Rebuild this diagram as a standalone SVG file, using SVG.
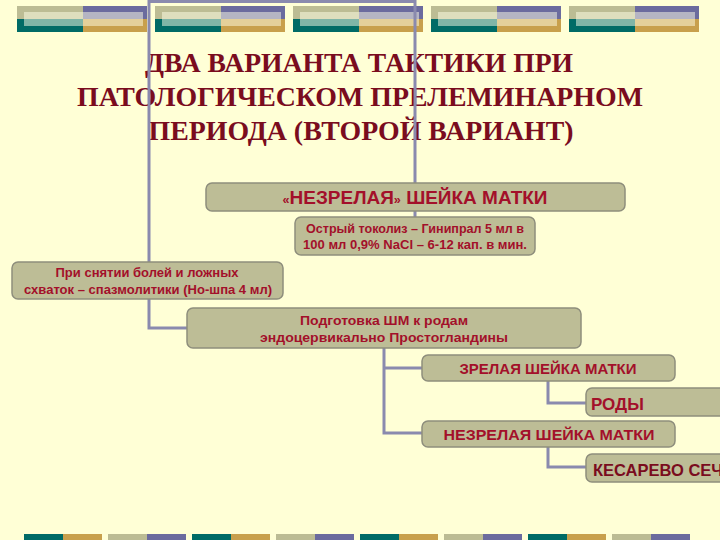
<svg xmlns="http://www.w3.org/2000/svg" width="720" height="540" viewBox="0 0 720 540">
<defs>
<style>
.kh{fill:#BCBC94}.pu{fill:#6B6B9E}.te{fill:#006B66}.go{fill:#C8A04C}
.hl{fill:#FFFFE8;opacity:0.5}
.title{font-family:"Liberation Serif","Times New Roman",serif;font-weight:bold;font-size:28px;fill:#7A0C1E;text-anchor:middle}
.box{fill:#BDBD96;stroke:#8E8E7C;stroke-width:1.5}
.t{font-family:"Liberation Sans",Arial,sans-serif;font-weight:bold;fill:#A3102A;text-anchor:middle}
.ts{font-family:"Liberation Sans",Arial,sans-serif;font-weight:bold;fill:#A3102A;text-anchor:start}
.conn{fill:none;stroke:#8A8AAE;stroke-width:3}
</style>
<g id="topblock">
<rect class="kh" x="0" y="6" width="66" height="13"/>
<rect class="pu" x="66" y="6" width="64" height="13"/>
<rect class="te" x="0" y="19" width="66" height="13"/>
<rect class="go" x="66" y="19" width="64" height="13"/>
<rect class="hl" x="7" y="12" width="119" height="14"/>
</g>
<g id="botA"><rect class="te" x="0" y="534" width="39" height="6"/><rect class="go" x="39" y="534" width="39" height="6"/></g>
<g id="botB"><rect class="kh" x="0" y="534" width="39" height="6"/><rect class="pu" x="39" y="534" width="39" height="6"/></g>
</defs>
<rect width="720" height="540" fill="#FFFFD6"/>
<g id="decor">
<use href="#topblock" x="17"/><use href="#topblock" x="155"/><use href="#topblock" x="293"/><use href="#topblock" x="431"/><use href="#topblock" x="569"/>
<use href="#botA" x="24"/><use href="#botB" x="108"/><use href="#botA" x="192"/><use href="#botB" x="276"/><use href="#botA" x="360"/><use href="#botB" x="444"/><use href="#botA" x="528"/><use href="#botB" x="612"/>
</g>
<g id="title">
<text class="title" x="359" y="72" textLength="428" lengthAdjust="spacingAndGlyphs">ДВА ВАРИАНТА ТАКТИКИ ПРИ</text>
<text class="title" x="360" y="106" textLength="566" lengthAdjust="spacingAndGlyphs">ПАТОЛОГИЧЕСКОМ ПРЕЛЕМИНАРНОМ</text>
<text class="title" x="361" y="140" textLength="425" lengthAdjust="spacingAndGlyphs">ПЕРИОДА (ВТОРОЙ ВАРИАНТ)</text>
</g>
<g id="connectors">
<path class="conn" d="M187,328 H149 V1.5 H415 V217"/>
<path class="conn" d="M384,348 V433 H422 M384,368 H422"/>
<path class="conn" d="M548,381 V403 H586"/>
<path class="conn" d="M548,447 V467 H586"/>
</g>
<g id="n1">
<rect class="box" x="206" y="183" width="419" height="28" rx="6"/>
<text class="t" x="415" y="204" font-size="18" textLength="265" lengthAdjust="spacingAndGlyphs"><tspan font-size="12">«</tspan>НЕЗРЕЛАЯ<tspan font-size="12">»</tspan> ШЕЙКА МАТКИ</text>
</g>
<g id="n2">
<rect class="box" x="295" y="217" width="240" height="38" rx="6"/>
<text class="t" x="415" y="233" font-size="12.5" textLength="218" lengthAdjust="spacingAndGlyphs">Острый токолиз – Гинипрал 5 мл в</text>
<text class="t" x="415" y="249" font-size="12.5" textLength="224" lengthAdjust="spacingAndGlyphs">100 мл 0,9% NaCl – 6-12 кап. в мин.</text>
</g>
<g id="n3">
<rect class="box" x="12" y="262" width="271" height="37" rx="6"/>
<text class="t" x="147" y="277" font-size="12.5" textLength="183" lengthAdjust="spacingAndGlyphs">При снятии болей и ложных</text>
<text class="t" x="148" y="294" font-size="12.5" textLength="248" lengthAdjust="spacingAndGlyphs">схваток – спазмолитики (Но-шпа 4 мл)</text>
</g>
<g id="n4">
<rect class="box" x="187" y="308" width="394" height="40" rx="6"/>
<text class="t" x="384" y="325" font-size="13" textLength="168" lengthAdjust="spacingAndGlyphs">Подготовка ШМ к родам</text>
<text class="t" x="384" y="342" font-size="13" textLength="248" lengthAdjust="spacingAndGlyphs">эндоцервикально Простогландины</text>
</g>
<g id="n5">
<rect class="box" x="422" y="355" width="253" height="26" rx="6"/>
<text class="t" x="548" y="374" font-size="14" textLength="177" lengthAdjust="spacingAndGlyphs">ЗРЕЛАЯ ШЕЙКА МАТКИ</text>
</g>
<g id="n6">
<rect class="box" x="586" y="388" width="150" height="28" rx="6"/>
<text class="ts" x="591" y="410" font-size="17">РОДЫ</text>
</g>
<g id="n7">
<rect class="box" x="422" y="421" width="253" height="26" rx="6"/>
<text class="t" x="549" y="440" font-size="15.5" textLength="211" lengthAdjust="spacingAndGlyphs">НЕЗРЕЛАЯ ШЕЙКА МАТКИ</text>
</g>
<g id="n8">
<rect class="box" x="586" y="454" width="150" height="28" rx="6"/>
<text class="ts" x="593" y="476" font-size="16.5" style="fill:#7A0C1E">КЕСАРЕВО СЕЧЕНИЕ</text>
</g>
</svg>
